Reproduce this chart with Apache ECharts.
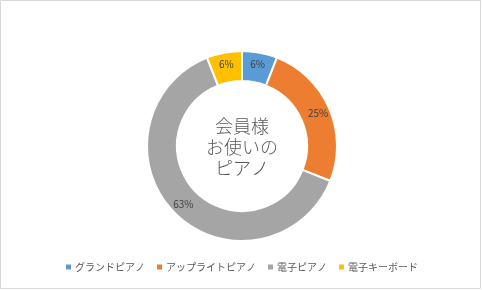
<!DOCTYPE html>
<html><head><meta charset="utf-8">
<script src="https://cdn.jsdelivr.net/npm/echarts@6/dist/echarts.min.js"></script>
<style>html,body{margin:0;padding:0;background:#fff}#c{width:482px;height:290px}</style>
</head><body><div id="c"></div>
<script>
const categories = ['グランドピアノ', 'アップライトピアノ', '電子ピアノ', '電子キーボード'];
const values = [6, 25, 63, 6];
const colors = ['#5B9BD5', '#ED7D31', '#A5A5A5', '#FFC000'];
const centerLines = ['会員様', 'お使いの', 'ピアノ'];

const chart = echarts.init(document.getElementById('c'), null, {renderer: 'canvas'});
const FONT = '"Noto Sans CJK JP", "Noto Sans", sans-serif';
chart.setOption({
  animation: false,
  color: colors,
  graphic: [
    {type: 'rect', shape: {x: 0.5, y: 0.5, width: 480, height: 288},
     style: {fill: 'none', stroke: '#d9d9d9', lineWidth: 1}},
    {type: 'text', x: 242, y: 147, z: 10,
     style: {text: centerLines.join('\n'), fill: '#595959', font: '300 18px ' + FONT,
             lineHeight: 21, align: 'center', verticalAlign: 'middle'}}
  ],
  legend: {
    bottom: 13, left: 'center', itemWidth: 7, itemHeight: 7, itemGap: 10,
    icon: 'rect',
    textStyle: {color: '#595959', fontSize: 10, fontFamily: FONT, padding: [0, 0, 0, -2]},
    data: categories
  },
  series: [{
    type: 'pie',
    center: [242, 146],
    radius: [65, 95],
    startAngle: 90,
    clockwise: true,
    avoidLabelOverlap: false,
    itemStyle: {borderColor: '#fff', borderWidth: 2},
    label: {show: true, position: 'inside', formatter: '{c}%', color: '#404040',
            fontSize: 10, fontFamily: FONT},
    labelLine: {show: false},
    emphasis: {disabled: true},
    data: categories.map((n, i) => ({name: n, value: values[i]}))
  }]
});
</script></body></html>
